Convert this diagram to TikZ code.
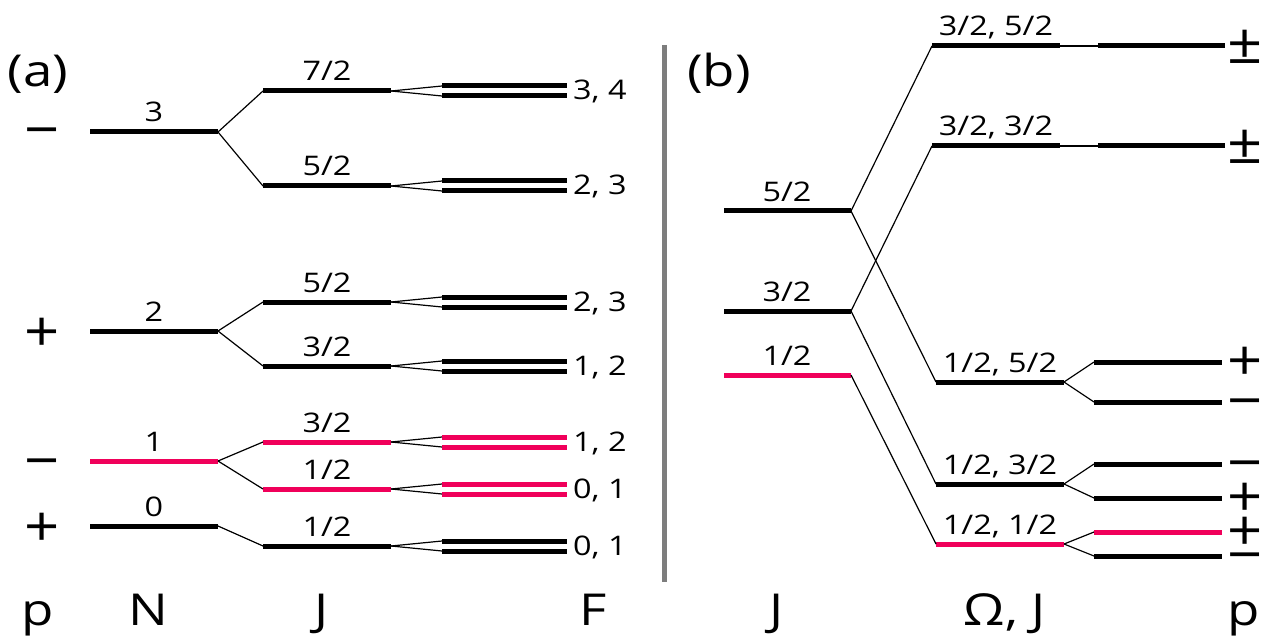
\documentclass[tikz,border=0pt]{standalone}
\usepackage{fontspec}
\setmainfont{Open Sans}
\definecolor{lvlpink}{RGB}{240,0,90}
\definecolor{sepgray}{RGB}{125,125,125}
\newcommand\mylevel[5]{%
  \coordinate (#1-l) at (#2,#4);
  \coordinate (#1-r) at (#3,#4);
  \draw[lv,#5] (#1-l) -- (#1-r);}
\newcommand\sx[1]{\scalebox{1.2}[1]{#1}}
\newcommand\sy[1]{\scalebox{1.1}[1]{#1}}
\begin{document}
\begin{tikzpicture}[x=1pt,y=-1pt,
  lv/.style={line width=5pt},
  cn/.style={line width=1.2pt},
  lab/.style={font=\fontsize{27}{30}\selectfont, anchor=base, inner sep=0pt},
  flab/.style={font=\fontsize{27}{30}\selectfont, anchor=base west, inner sep=0pt},
  sgn/.style={font=\fontsize{56}{60}\selectfont, anchor=base, inner sep=0pt},
  axl/.style={font=\fontsize{44}{48}\selectfont, anchor=base, inner sep=0pt}]
\useasboundingbox (0,0) rectangle (1263,639);

% ---------- panel (a) ----------
\node[axl] (pa) at (38,87) {\sx{(a)}};
% N levels
\mylevel{N3}{90}{218}{132}{black}
\mylevel{N2}{90}{218}{331}{black}
\mylevel{N1}{90}{218}{461}{lvlpink}
\mylevel{N0}{90}{218}{526}{black}
% J levels
\mylevel{Ja}{263}{391}{91}{black}
\mylevel{Jb}{263}{391}{186}{black}
\mylevel{Jc}{263}{391}{302}{black}
\mylevel{Jd}{263}{391}{366}{black}
\mylevel{Je}{263}{391}{442}{lvlpink}
\mylevel{Jf}{263}{391}{489}{lvlpink}
\mylevel{Jg}{263}{391}{546}{black}
% F levels
\mylevel{Fa1}{442}{567}{86}{black}
\mylevel{Fa2}{442}{567}{96}{black}
\mylevel{Fb1}{442}{567}{181}{black}
\mylevel{Fb2}{442}{567}{191}{black}
\mylevel{Fc1}{442}{567}{297}{black}
\mylevel{Fc2}{442}{567}{307}{black}
\mylevel{Fd1}{442}{567}{361}{black}
\mylevel{Fd2}{442}{567}{371}{black}
\mylevel{Fe1}{442}{567}{437}{lvlpink}
\mylevel{Fe2}{442}{567}{447}{lvlpink}
\mylevel{Ff1}{442}{567}{484}{lvlpink}
\mylevel{Ff2}{442}{567}{494}{lvlpink}
\mylevel{Fg1}{442}{567}{541}{black}
\mylevel{Fg2}{442}{567}{551}{black}
% connectors N -> J
\draw[cn] (N3-r) -- (Ja-l);
\draw[cn] (N3-r) -- (Jb-l);
\draw[cn] (N2-r) -- (Jc-l);
\draw[cn] (N2-r) -- (Jd-l);
\draw[cn] (N1-r) -- (Je-l);
\draw[cn] (N1-r) -- (Jf-l);
\draw[cn] (N0-r) -- (Jg-l);
% connectors J -> F
\foreach \j in {a,b,c,d,e,f,g}{
  \draw[cn] (J\j-r) -- (F\j1-l);
  \draw[cn] (J\j-r) -- (F\j2-l);
}
% N labels
\node[lab] (lN3) at (154,122) {\sx{3}};
\node[lab] (lN2) at (154,321) {\sx{2}};
\node[lab] (lN1) at (154,451) {\sx{1}};
\node[lab] (lN0) at (154,516) {\sx{0}};
% J labels
\node[lab] (lJa) at (327,81) {\sx{7/2}};
\node[lab] (lJb) at (327,176) {\sx{5/2}};
\node[lab] (lJc) at (327,292) {\sx{5/2}};
\node[lab] (lJd) at (327,356) {\sx{3/2}};
\node[lab] (lJe) at (327,432) {\sx{3/2}};
\node[lab] (lJf) at (327,479) {\sx{1/2}};
\node[lab] (lJg) at (327,536) {\sx{1/2}};
% F labels
\node[flab] (lFa) at (573,100) {\sx{3, 4}};
\node[flab] (lFb) at (573,195) {\sx{2, 3}};
\node[flab] (lFc) at (573,311) {\sx{2, 3}};
\node[flab] (lFd) at (573,375) {\sx{1, 2}};
\node[flab] (lFe) at (573,451) {\sx{1, 2}};
\node[flab] (lFf) at (573,498) {\sx{0, 1}};
\node[flab] (lFg) at (573,555) {\sx{0, 1}};
% parity signs
\node[sgn] (sN3) at (42,150) {\sy{−}};
\node[sgn] (sN2) at (42,351) {\sy{+}};
\node[sgn] (sN1) at (42,480) {\sy{−}};
\node[sgn] (sN0) at (42,546) {\sy{+}};
% axis labels
\node[axl] (xp) at (38,625) {\sx{p}};
\node[axl] (xN) at (148,625) {\sx{N}};
\node[axl] (xJ) at (322,625) {\sx{J}};
\node[axl] (xF) at (593,625) {\sx{F}};

% separator
\draw[sepgray, line width=4.5pt] (664.5,45) coordinate (s1) -- (664.5,582) coordinate (s2);

% ---------- panel (b) ----------
\node[axl] (pb) at (719,87) {\sx{(b)}};
\mylevel{RJa}{724}{851}{211}{black}
\mylevel{RJb}{724}{851}{311}{black}
\mylevel{RJc}{724}{851}{375}{lvlpink}
\mylevel{Oa}{932}{1060}{46}{black}
\mylevel{Ob}{932}{1060}{146}{black}
\mylevel{Oc}{936}{1064}{382}{black}
\mylevel{Od}{936}{1064}{484}{black}
\mylevel{Oe}{936}{1064}{544}{lvlpink}
\mylevel{Pa}{1098}{1225}{46}{black}
\mylevel{Pb}{1098}{1225}{146}{black}
\mylevel{Pc1}{1094}{1222}{362}{black}
\mylevel{Pc2}{1094}{1222}{402}{black}
\mylevel{Pd1}{1094}{1222}{464}{black}
\mylevel{Pd2}{1094}{1222}{498}{black}
\mylevel{Pe1}{1094}{1222}{532}{lvlpink}
\mylevel{Pe2}{1094}{1222}{556}{black}
% connectors
\draw[cn] (RJa-r) -- (Oa-l);
\draw[cn] (RJa-r) -- (Oc-l);
\draw[cn] (RJb-r) -- (Ob-l);
\draw[cn] (RJb-r) -- (Od-l);
\draw[cn] (RJc-r) -- (Oe-l);
\draw[cn] (Oa-r) -- (Pa-l);
\draw[cn] (Ob-r) -- (Pb-l);
\draw[cn] (Oc-r) -- (Pc1-l);
\draw[cn] (Oc-r) -- (Pc2-l);
\draw[cn] (Od-r) -- (Pd1-l);
\draw[cn] (Od-r) -- (Pd2-l);
\draw[cn] (Oe-r) -- (Pe1-l);
\draw[cn] (Oe-r) -- (Pe2-l);
% labels
\node[lab] (lRJa) at (787,201) {\sx{5/2}};
\node[lab] (lRJb) at (787,301) {\sx{3/2}};
\node[lab] (lRJc) at (787,365) {\sx{1/2}};
\node[lab] (lOa) at (996,36) {\sx{3/2, 5/2}};
\node[lab] (lOb) at (996,136) {\sx{3/2, 3/2}};
\node[lab] (lOc) at (1000,372) {\sx{1/2, 5/2}};
\node[lab] (lOd) at (1000,474) {\sx{1/2, 3/2}};
\node[lab] (lOe) at (1000,534) {\sx{1/2, 1/2}};
% parity signs
\node[sgn] (sPa) at (1245,64) {\sy{±}};
\node[sgn] (sPb) at (1245,164) {\sy{±}};
\node[sgn] (sPc1) at (1245,380) {\sy{+}};
\node[sgn] (sPc2) at (1245,420) {\sy{−}};
\node[sgn] (sPd1) at (1245,482) {\sy{−}};
\node[sgn] (sPd2) at (1245,516) {\sy{+}};
\node[sgn] (sPe1) at (1245,550) {\sy{+}};
\node[sgn] (sPe2) at (1245,574) {\sy{−}};
% axis labels
\node[axl] (xJb) at (777,625) {\sx{J}};
\node[axl] (xO) at (1005,625) {\sx{Ω, J}};
\node[axl] (xpb) at (1244,625) {\sx{p}};
\end{tikzpicture}
\end{document}
